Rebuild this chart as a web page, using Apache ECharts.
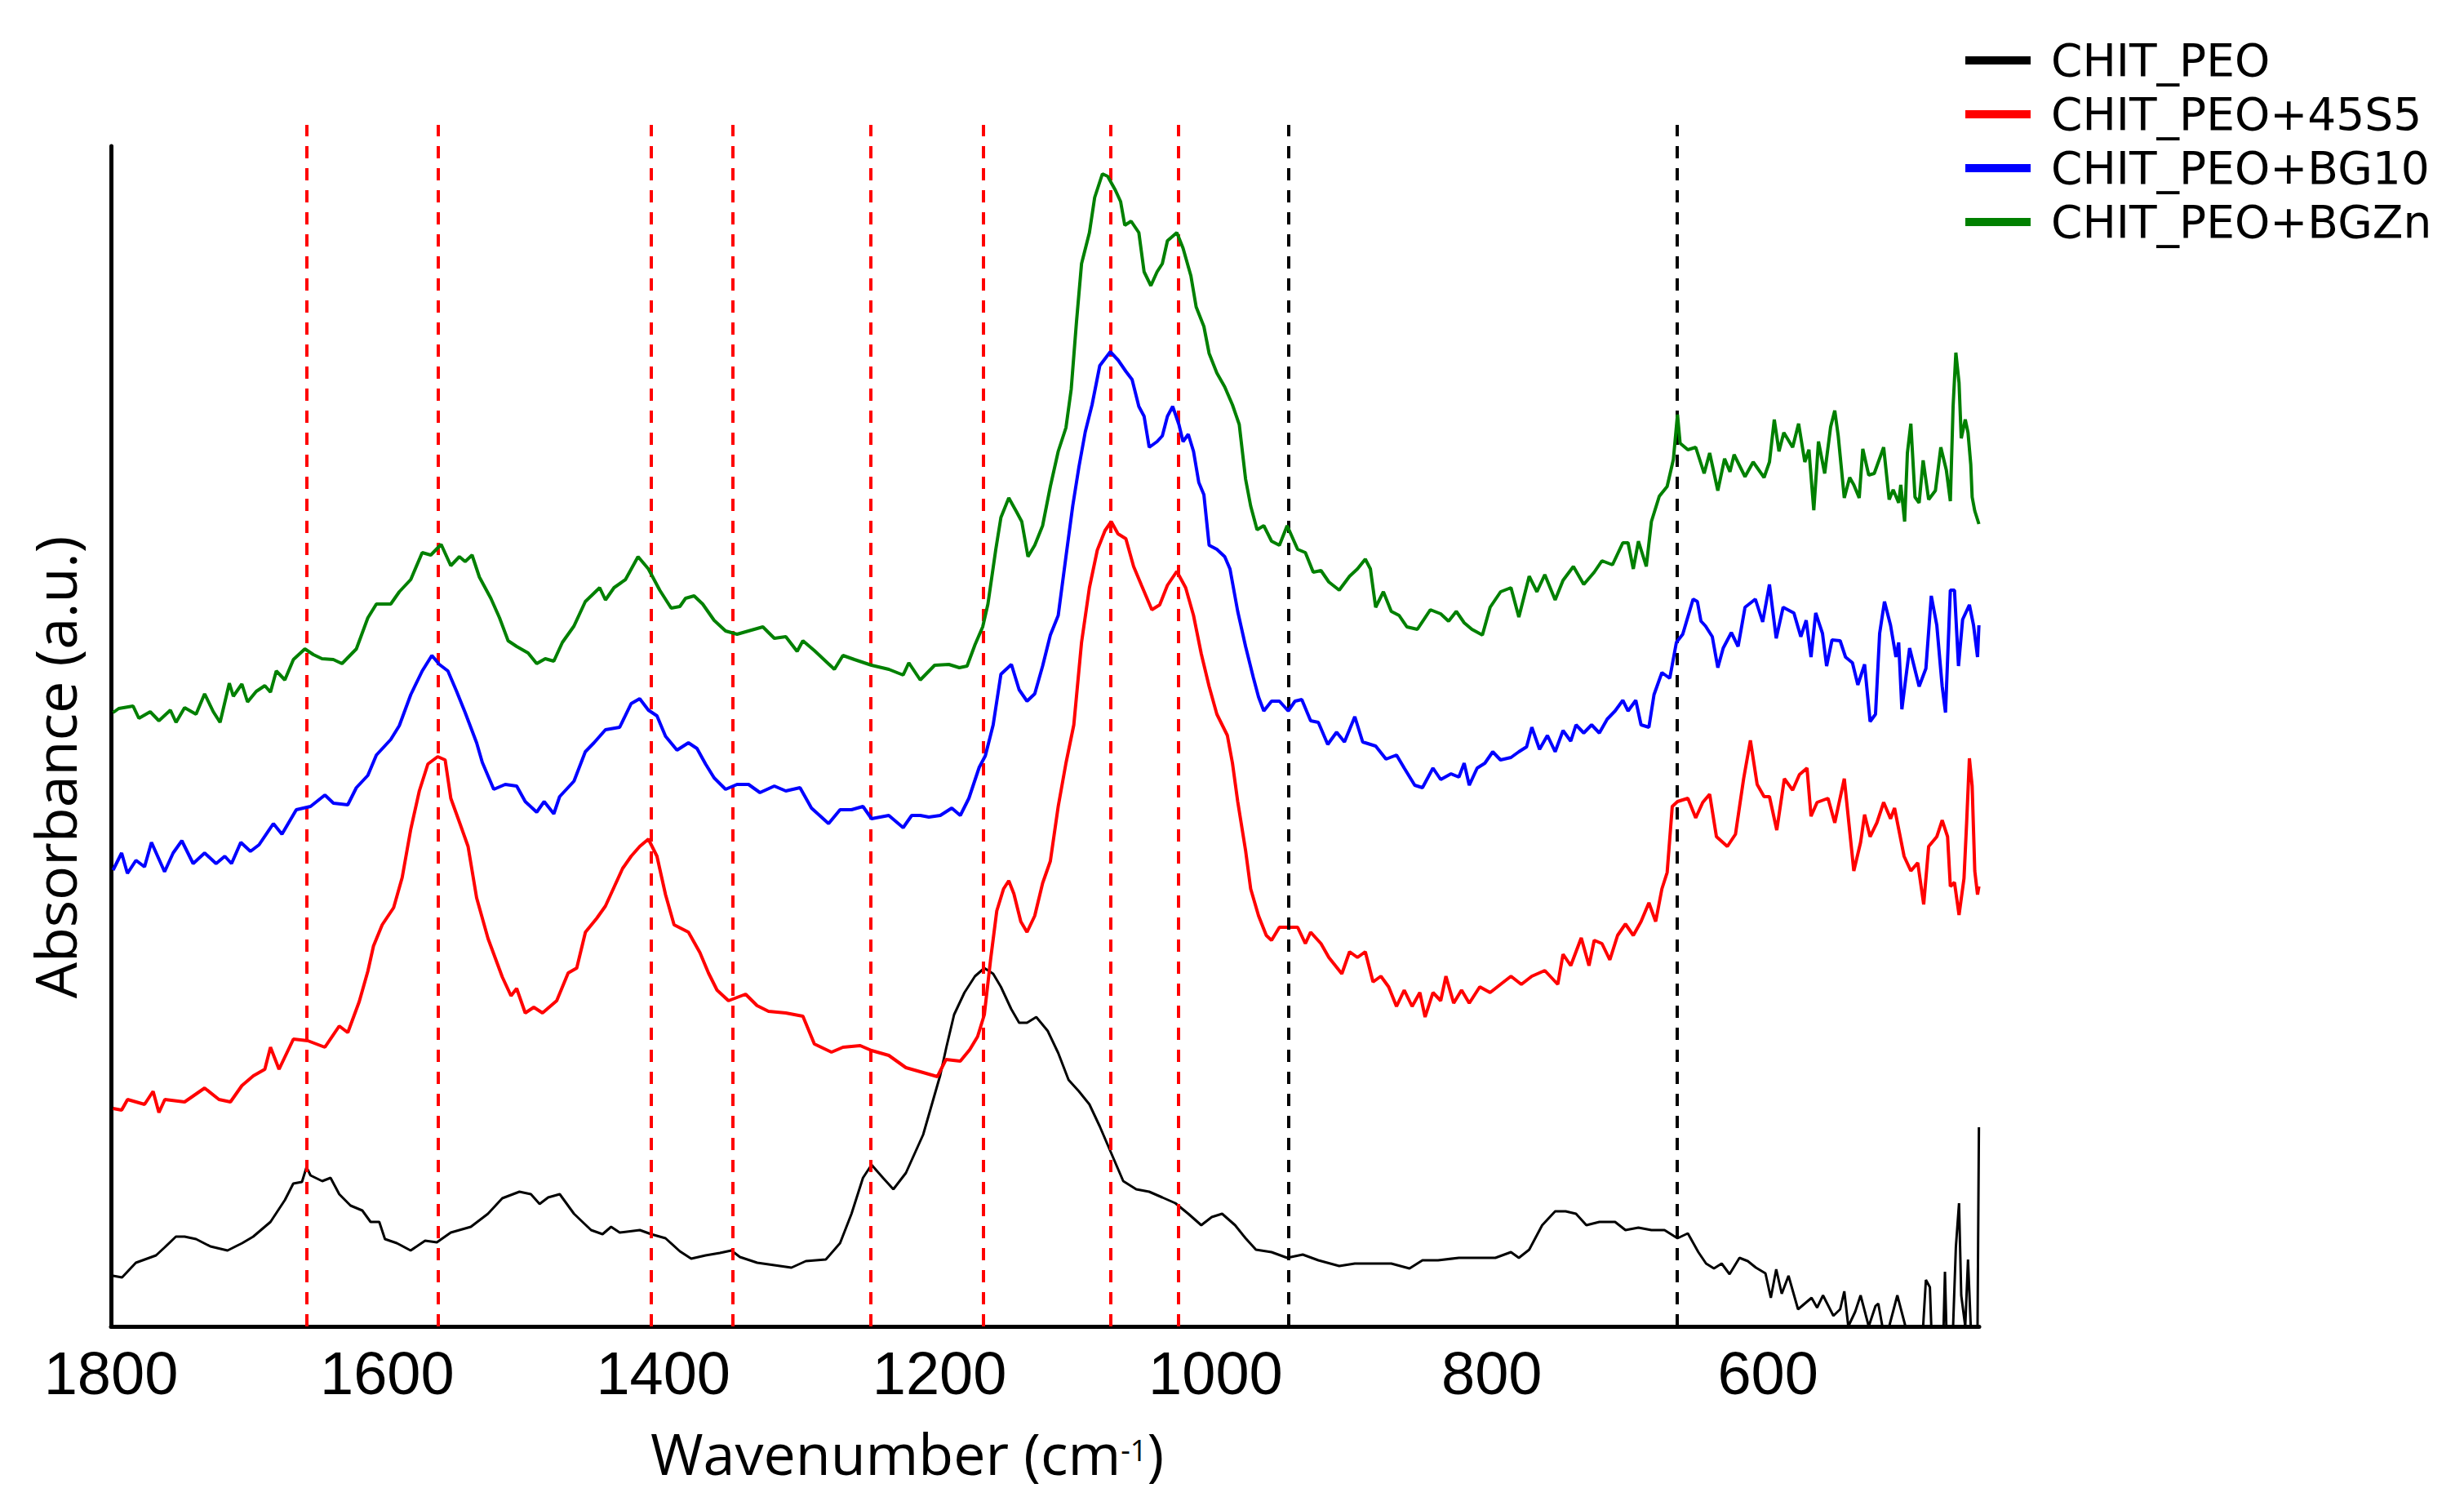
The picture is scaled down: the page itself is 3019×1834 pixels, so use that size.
<!DOCTYPE html>
<html>
<head>
<meta charset="utf-8">
<script src="https://cdn.jsdelivr.net/npm/echarts@6/dist/echarts.min.js"></script>
<style>
html,body{margin:0;padding:0;background:#fff;}
#chart{width:3019px;height:1834px;}
</style>
</head>
<body>
<div id="chart"></div>
<script>
// ---- data (wavenumber cm-1, absorbance a.u. with vertical offsets as in the figure) ----
const seriesNames = ['CHIT_PEO', 'CHIT_PEO+45S5', 'CHIT_PEO+BG10', 'CHIT_PEO+BGZn'];
const seriesColors = ['#000000', '#FF0000', '#0000FF', '#008000'];
const tickLabels = [1800, 1600, 1400, 1200, 1000, 800, 600];
const dashedRed = [1658, 1563, 1409, 1350, 1250, 1168, 1076, 1027];
const dashedBlack = [947, 666];

const chitPeo = [[1798.5,0.62],[1792,0.60],[1782,0.78],[1767.4,0.87],[1761,0.97],[1753,1.10],[1746.7,1.10],[1738.4,1.07],[1728,0.98],[1715.6,0.93],[1705,1.02],[1697,1.10],[1684.5,1.28],[1674,1.55],[1668,1.75],[1661.7,1.77],[1658.4,1.95],[1655.5,1.85],[1647,1.78],[1641,1.82],[1634.7,1.62],[1626.5,1.48],[1618,1.42],[1612,1.28],[1605.7,1.28],[1601.6,1.07],[1593,1.02],[1583,0.93],[1572.5,1.05],[1564,1.03],[1553.9,1.15],[1539.4,1.22],[1527,1.38],[1516.6,1.57],[1504.2,1.65],[1495.9,1.62],[1489.6,1.50],[1483.4,1.58],[1475,1.62],[1464.7,1.38],[1452.3,1.18],[1444,1.13],[1437.8,1.22],[1431.6,1.15],[1417,1.18],[1408.8,1.13],[1398.4,1.08],[1388,0.92],[1379.8,0.83],[1369.4,0.87],[1359,0.90],[1350.7,0.93],[1344.5,0.85],[1332,0.78],[1319.6,0.75],[1307.2,0.72],[1296.8,0.80],[1282.3,0.82],[1272,1.02],[1263.7,1.38],[1255.4,1.82],[1249.2,1.98],[1240.9,1.82],[1233.4,1.68],[1224.3,1.88],[1211.8,2.35],[1199.4,3.08],[1195,3.42],[1189.4,3.82],[1181.9,4.09],[1174.3,4.29],[1167.5,4.39],[1161.1,4.32],[1155.5,4.16],[1148.1,3.89],[1142.3,3.72],[1136.6,3.72],[1129.9,3.79],[1121.6,3.62],[1114,3.35],[1106.5,3.02],[1099,2.88],[1091.4,2.72],[1083.9,2.45],[1076.3,2.15],[1066.9,1.78],[1057.5,1.68],[1048.1,1.65],[1038.6,1.58],[1029.2,1.51],[1019.8,1.38],[1010.4,1.24],[1002.8,1.34],[995.3,1.38],[985.9,1.24],[978.3,1.08],[970.8,0.94],[959.5,0.91],[948.2,0.84],[936.9,0.88],[925.6,0.81],[910.5,0.74],[899.2,0.77],[884.1,0.77],[872.8,0.77],[859.6,0.71],[850.2,0.81],[838.9,0.81],[823.8,0.84],[808.7,0.84],[797.4,0.84],[786.1,0.91],[780.4,0.84],[772.9,0.94],[763.5,1.24],[754.1,1.41],[746.5,1.41],[739,1.38],[731.5,1.24],[722.1,1.28],[710.7,1.28],[703.2,1.18],[693.8,1.21],[684.4,1.18],[674.9,1.18],[665.5,1.08],[658,1.14],[650.4,0.91],[644.8,0.77],[639.1,0.71],[633.5,0.77],[627.8,0.64],[620.6,0.84],[614.6,0.80],[608.7,0.72],[601.8,0.65],[597.9,0.35],[594,0.70],[590,0.40],[585.1,0.62],[578.2,0.21],[573.3,0.28],[568.4,0.35],[564.4,0.23],[560.1,0.38],[552.6,0.13],[547.7,0.21],[544.7,0.43],[541.8,0],[536.8,0.18],[532.9,0.38],[527,0],[522.1,0.25],[520.1,0.28],[517.1,0],[512.2,0],[506.3,0.38],[500.4,0],[487.6,0],[485.6,0.57],[482.7,0.48],[481.7,0],[472.8,0],[471.8,0.67],[470.8,0],[465.9,0],[463.9,0.97],[461.6,1.51],[460,0.38],[457.1,0],[455.1,0.82],[453.1,0],[448.2,0],[447.2,2.44]];

const chitPeo45S5 = [[1798.5,2.67],[1792.3,2.65],[1788,2.78],[1775.7,2.72],[1769.5,2.88],[1765.3,2.62],[1761,2.78],[1746.7,2.75],[1732.2,2.92],[1721.8,2.78],[1713.5,2.75],[1705.2,2.95],[1696.9,3.07],[1688.6,3.15],[1684.5,3.42],[1678.3,3.15],[1667.9,3.52],[1657.5,3.50],[1645.1,3.42],[1634.7,3.68],[1628.5,3.60],[1620.2,3.98],[1614,4.35],[1609.9,4.66],[1603.6,4.92],[1595.3,5.13],[1589.1,5.50],[1582.9,6.09],[1576.7,6.56],[1570.5,6.89],[1563.4,6.98],[1558,6.94],[1553.9,6.47],[1547.7,6.18],[1541.4,5.88],[1535.2,5.25],[1526.9,4.75],[1516.6,4.28],[1510.3,4.05],[1506.2,4.14],[1500,3.84],[1493.8,3.91],[1487.5,3.84],[1477.2,3.99],[1468.9,4.33],[1462.7,4.39],[1456.4,4.83],[1448.2,5.00],[1441.9,5.15],[1435.7,5.38],[1429.5,5.61],[1423.3,5.76],[1417.1,5.88],[1410.8,5.97],[1404.6,5.76],[1398.4,5.29],[1392.2,4.92],[1381.8,4.83],[1373.5,4.58],[1367.3,4.33],[1361.1,4.12],[1352.8,3.99],[1340.4,4.07],[1332.1,3.93],[1323.8,3.86],[1311.3,3.84],[1298.9,3.80],[1290.6,3.46],[1278.2,3.36],[1269.9,3.42],[1257.4,3.44],[1249.2,3.38],[1236.7,3.32],[1224.3,3.17],[1211.8,3.11],[1201.5,3.06],[1195.3,3.27],[1184.9,3.25],[1178.1,3.39],[1172.4,3.55],[1167.5,3.82],[1163,4.49],[1158.5,5.09],[1153.6,5.36],[1149.8,5.46],[1146.1,5.30],[1141.1,4.96],[1136.6,4.83],[1131,5.03],[1125.3,5.43],[1119.7,5.70],[1114,6.37],[1108.4,6.90],[1102.7,7.37],[1097.1,8.38],[1091.4,9.05],[1085.7,9.51],[1080.1,9.75],[1075.6,9.86],[1070.7,9.71],[1065,9.65],[1059.4,9.31],[1053.7,9.08],[1046.2,8.78],[1040.5,8.84],[1034.9,9.08],[1028.1,9.25],[1021.7,9.05],[1016,8.71],[1010.4,8.24],[1004.7,7.84],[999.1,7.50],[991.5,7.24],[987.8,6.90],[984,6.43],[978.3,5.83],[974.6,5.36],[968.9,5.03],[963.3,4.79],[959.5,4.73],[953.8,4.89],[947.4,4.89],[940.6,4.89],[935,4.69],[931.2,4.83],[923.7,4.69],[918,4.52],[908.6,4.32],[903,4.59],[897.3,4.52],[891.6,4.59],[886,4.22],[880.3,4.29],[874.7,4.16],[869,3.92],[863.4,4.12],[857.7,3.92],[852.1,4.09],[848.3,3.79],[842.6,4.09],[837,3.99],[833.2,4.29],[827.6,3.96],[821.9,4.12],[816.3,3.96],[808.7,4.16],[801.2,4.09],[793.7,4.19],[786.1,4.29],[778.6,4.19],[771,4.29],[761.6,4.36],[752.2,4.19],[748.4,4.56],[742.8,4.42],[735.2,4.76],[729.6,4.42],[725.8,4.73],[720.2,4.69],[714.5,4.49],[708.9,4.79],[703.2,4.93],[697.5,4.79],[691.9,4.96],[686.2,5.19],[681.3,4.96],[676.8,5.36],[673,5.56],[669.3,6.37],[665.5,6.43],[658,6.47],[652.3,6.23],[647.2,6.42],[642.2,6.52],[637.3,6.00],[629.4,5.88],[623.5,6.03],[617.6,6.71],[612.7,7.18],[607.8,6.64],[602.8,6.49],[598.9,6.49],[593.6,6.08],[588.1,6.71],[582.1,6.57],[577.2,6.76],[571.7,6.84],[568.8,6.25],[564.4,6.42],[556.5,6.47],[551.6,6.17],[544.7,6.71],[537.8,5.58],[532.9,5.93],[530,6.27],[526,6.00],[521.1,6.17],[516.2,6.42],[511.2,6.22],[508.3,6.35],[501.4,5.76],[496.5,5.58],[491.5,5.68],[487.2,5.17],[483.6,5.88],[477.7,6.00],[473.8,6.20],[469.9,6.00],[467.9,5.39],[464.9,5.44],[461.6,5.04],[458,5.49],[456.1,6.17],[454.1,6.96],[452.1,6.62],[450.2,5.58],[448.2,5.29],[447.2,5.39]];

const chitPeoBG10 = [[1798.5,5.59],[1792.3,5.80],[1788.1,5.55],[1781.9,5.71],[1775.7,5.63],[1770.7,5.93],[1761.2,5.57],[1755,5.80],[1748.7,5.95],[1740.5,5.67],[1732.2,5.80],[1723.9,5.67],[1717.6,5.76],[1712.7,5.67],[1706,5.93],[1699,5.82],[1692.8,5.90],[1682.4,6.16],[1676.2,6.03],[1665.8,6.33],[1655.5,6.37],[1645.1,6.51],[1638.9,6.41],[1628.5,6.39],[1622.3,6.60],[1614,6.75],[1607.8,7.00],[1597.4,7.19],[1591.2,7.36],[1582.9,7.74],[1574.6,8.03],[1567.6,8.22],[1562.2,8.11],[1556,8.03],[1549.7,7.78],[1543.5,7.52],[1535.2,7.15],[1531.1,6.91],[1522.8,6.58],[1514.5,6.64],[1506.2,6.62],[1500,6.43],[1491.7,6.30],[1486.3,6.43],[1479.3,6.28],[1475.1,6.49],[1464.7,6.68],[1456.5,7.04],[1450.2,7.15],[1441.9,7.31],[1431.6,7.34],[1423.3,7.63],[1417.1,7.69],[1410.8,7.55],[1404.6,7.48],[1398.4,7.23],[1390.1,7.06],[1381.8,7.15],[1375.6,7.08],[1369.4,6.89],[1363.2,6.72],[1354.9,6.58],[1346.6,6.64],[1338.3,6.64],[1330,6.54],[1319.6,6.62],[1311.3,6.56],[1301,6.60],[1292.7,6.35],[1280.3,6.16],[1272,6.33],[1263.7,6.33],[1255.4,6.37],[1249.2,6.22],[1236.7,6.26],[1226.3,6.11],[1220.1,6.26],[1213.9,6.26],[1207.7,6.24],[1199.4,6.26],[1191.1,6.35],[1184.9,6.26],[1178.7,6.47],[1171.2,6.85],[1166.8,6.99],[1161.1,7.37],[1155.5,7.99],[1147.9,8.11],[1142.3,7.80],[1136.6,7.66],[1131,7.75],[1125.3,8.09],[1119.7,8.47],[1114,8.71],[1108.4,9.43],[1103.5,10.05],[1099,10.53],[1094.4,10.96],[1089.5,11.29],[1083.9,11.77],[1076.3,11.94],[1070.7,11.84],[1065,11.70],[1060.5,11.60],[1055.6,11.27],[1051.8,11.15],[1048.1,10.77],[1042.4,10.84],[1038.6,10.91],[1034.9,11.15],[1031.1,11.27],[1026.6,11.05],[1023.6,10.84],[1019.8,10.93],[1016,10.72],[1012.2,10.34],[1008.5,10.19],[1004.7,9.57],[999.1,9.52],[993.4,9.43],[989.6,9.28],[984,8.76],[978.3,8.33],[972.7,7.95],[968.9,7.71],[965.1,7.54],[959.5,7.66],[953.8,7.66],[947.4,7.54],[942.5,7.66],[937.6,7.68],[931.2,7.42],[925.6,7.40],[918.8,7.13],[912.4,7.28],[906.7,7.16],[899.2,7.47],[893.5,7.16],[884.1,7.11],[876.6,6.95],[869,7.00],[863.4,6.84],[855.8,6.63],[850.2,6.60],[842.6,6.84],[837,6.70],[829.5,6.77],[823.8,6.73],[820,6.90],[816.3,6.63],[810.6,6.84],[805,6.90],[799.3,7.04],[793.7,6.94],[786.1,6.97],[780.4,7.04],[774.8,7.10],[771,7.34],[765.4,7.07],[759.7,7.24],[754.1,7.04],[748.4,7.30],[742.8,7.17],[739,7.37],[733.4,7.27],[727.7,7.37],[722.1,7.27],[716.4,7.44],[710.7,7.54],[705.1,7.67],[701.3,7.54],[695.7,7.67],[691.9,7.37],[686.2,7.34],[682.5,7.74],[676.8,8.01],[671.1,7.94],[666.3,8.38],[661.7,8.48],[654.2,8.91],[651.1,8.88],[648.5,8.64],[645.2,8.58],[640.3,8.45],[636.3,8.07],[632.4,8.31],[626.5,8.50],[621.6,8.33],[616.6,8.81],[609.1,8.91],[603.8,8.63],[598.9,9.09],[594,8.43],[589,8.81],[581.2,8.74],[576.2,8.45],[572.3,8.65],[568.8,8.20],[565.4,8.74],[560.5,8.49],[557.5,8.09],[553.6,8.41],[547.7,8.40],[543.8,8.20],[538.8,8.13],[534.9,7.86],[530,8.11],[526,7.41],[522.1,7.50],[519.1,8.49],[515.6,8.88],[511.2,8.59],[507.3,8.20],[505.3,8.38],[503,7.56],[500.4,7.91],[497.4,8.31],[490.5,7.84],[485.6,8.06],[481.7,8.95],[477.7,8.59],[473.8,7.84],[471.4,7.52],[467.9,9.02],[464.9,9.02],[462,8.09],[459,8.66],[454.1,8.84],[451.1,8.59],[448.2,8.20],[447.2,8.59]];

const chitPeoBGZn = [[1798.5,7.52],[1794.4,7.57],[1784,7.60],[1779.8,7.45],[1771.6,7.53],[1765.3,7.42],[1757,7.55],[1752.9,7.40],[1746.7,7.58],[1738.4,7.50],[1732.2,7.75],[1725.9,7.53],[1721,7.40],[1714.3,7.88],[1711.4,7.72],[1705.2,7.87],[1701.1,7.65],[1694.8,7.78],[1688.6,7.85],[1684.5,7.77],[1680.3,8.03],[1674.1,7.92],[1667.9,8.17],[1659.6,8.30],[1653.4,8.23],[1647.2,8.18],[1639,8.17],[1632.7,8.12],[1622.3,8.30],[1614,8.68],[1607.8,8.85],[1597.4,8.85],[1591.2,9.00],[1582.9,9.15],[1574.6,9.48],[1568.4,9.45],[1560.9,9.58],[1553.9,9.32],[1547.7,9.43],[1543.5,9.37],[1538.5,9.45],[1533.2,9.18],[1524.9,8.92],[1518.6,8.68],[1512.4,8.40],[1506.2,8.33],[1497.9,8.25],[1491.7,8.12],[1485.5,8.18],[1479.3,8.15],[1473.1,8.38],[1464.7,8.58],[1456.5,8.88],[1446.1,9.05],[1441.9,8.90],[1435.7,9.05],[1427.4,9.15],[1418.3,9.43],[1410.8,9.28],[1402.6,9.02],[1394.3,8.80],[1388,8.82],[1383.9,8.92],[1377.7,8.95],[1371.5,8.85],[1363.2,8.65],[1354.9,8.52],[1346.6,8.48],[1338.3,8.52],[1327.9,8.57],[1319.6,8.43],[1311.3,8.45],[1303.1,8.27],[1298.9,8.40],[1290.6,8.28],[1276.1,8.05],[1269.9,8.22],[1261.6,8.17],[1249.2,8.10],[1236.7,8.05],[1226.3,7.98],[1222.2,8.13],[1213.9,7.92],[1203.5,8.10],[1193.2,8.11],[1185.6,8.07],[1180,8.09],[1174.3,8.35],[1168.7,8.57],[1164.9,8.85],[1159.2,9.52],[1155.5,9.91],[1149.8,10.15],[1144.2,9.98],[1140.4,9.86],[1135.9,9.43],[1131,9.57],[1125.3,9.81],[1119.7,10.29],[1114,10.72],[1108.4,11.01],[1104.6,11.48],[1100.8,12.30],[1097.1,13.02],[1091.4,13.40],[1087.6,13.83],[1082,14.12],[1078.2,14.09],[1072.6,13.92],[1068.8,13.78],[1065.8,13.49],[1061.2,13.54],[1055.6,13.40],[1051.8,12.92],[1046.9,12.75],[1042.4,12.92],[1038.6,13.02],[1034.9,13.30],[1028.1,13.40],[1023.6,13.21],[1017.9,12.87],[1014.1,12.49],[1008.5,12.25],[1004.7,11.92],[999.1,11.68],[993.4,11.51],[987.8,11.29],[982.9,11.05],[978.3,10.38],[974.6,10.05],[970,9.76],[965.1,9.81],[959.5,9.62],[953.8,9.57],[948.2,9.81],[940.6,9.52],[935,9.48],[929.3,9.24],[923.7,9.26],[918,9.12],[910.5,9.02],[903,9.19],[897.3,9.28],[891.6,9.40],[887.9,9.28],[884.1,8.81],[878.5,9.00],[872.8,8.76],[867.1,8.71],[861.5,8.57],[853.9,8.54],[844.5,8.78],[837,8.73],[831.3,8.64],[825.7,8.76],[820,8.62],[814.4,8.54],[806.8,8.47],[801.2,8.81],[793.6,9.00],[786.1,9.05],[780.4,8.69],[772.9,9.19],[767.3,9.00],[761.6,9.21],[754.1,8.90],[748.4,9.14],[740.9,9.31],[733.4,9.09],[725.8,9.24],[720.2,9.38],[712.6,9.33],[705.1,9.60],[701.3,9.60],[697.5,9.28],[693.8,9.62],[688.1,9.31],[684.4,9.86],[678.7,10.17],[673,10.29],[668.5,10.62],[665.5,11.17],[663.6,10.82],[658,10.74],[652.3,10.77],[646.2,10.45],[642.2,10.70],[636.3,10.24],[631.4,10.63],[627.5,10.47],[624.5,10.68],[616.6,10.41],[610.7,10.59],[602.8,10.40],[598.9,10.59],[595.4,11.11],[592,10.72],[588.5,10.95],[582.1,10.77],[577.8,11.06],[573.3,10.59],[570.3,10.74],[566.8,10.00],[563.4,10.84],[558.9,10.45],[554.6,11.02],[551.6,11.22],[549.1,10.91],[544.7,10.15],[540.8,10.40],[537.8,10.31],[533.9,10.15],[531.3,10.75],[527,10.43],[523,10.45],[516.2,10.77],[512.2,10.13],[509.3,10.25],[505.3,10.09],[503.8,10.31],[501,9.86],[499,10.70],[496.5,11.06],[493.5,10.16],[490.5,10.09],[487.6,10.61],[483.6,10.13],[478.7,10.24],[474.8,10.77],[470.8,10.49],[467.9,10.11],[465.9,11.27],[463.9,11.93],[461.6,11.56],[460,10.88],[457.1,11.11],[455.1,10.95],[453.1,10.56],[452.1,10.16],[450.2,9.99],[447.2,9.83]];

const spectra = [chitPeo, chitPeo45S5, chitPeoBG10, chitPeoBGZn];
const lineWidths = [3, 4, 4, 4];

// ---- chart ----
const chart = echarts.init(document.getElementById('chart'), null, {renderer: 'svg'});
const titleFont = "'Open Sans', 'DejaVu Sans', sans-serif";
const legendFont = "'DejaVu Sans', 'Open Sans', sans-serif";
const tickFont = "'Liberation Sans', Arial, sans-serif";

const markData = dashedRed.map(v => ({xAxis: v, lineStyle: {color: '#FF0000', type: [15, 12], width: 4}}))
  .concat(dashedBlack.map(v => ({xAxis: v, lineStyle: {color: '#000000', type: [15, 12], width: 4}})));

const series = spectra.map((d, i) => ({
  type: 'line',
  name: seriesNames[i],
  data: d,
  xAxisIndex: 0,
  yAxisIndex: 0,
  showSymbol: false,
  symbol: 'none',
  animation: false,
  lineStyle: {color: seriesColors[i], width: lineWidths[i]},
  itemStyle: {color: seriesColors[i]},
  z: 3 + i
}));
series[0].markLine = {
  silent: true,
  symbol: ['none', 'none'],
  label: {show: false},
  animation: false,
  data: markData
};

const option = {
  animation: false,
  backgroundColor: '#ffffff',
  grid: [
    {left: 136, right: 594, top: 153, bottom: 209},
    {left: 136, right: 594, top: 179, bottom: 209}
  ],
  legend: {
    orient: 'vertical',
    left: 2403,
    top: 38,
    itemWidth: 80,
    itemHeight: 10,
    itemGap: 4,
    icon: 'rect',
    data: seriesNames,
    textStyle: {fontSize: 55, fontFamily: legendFont, color: '#000', lineHeight: 62, padding: [0, 0, 0, 20]}
  },
  xAxis: [
    {
      type: 'value', gridIndex: 0, min: 447, max: 1800, inverse: true,
      axisLine: {show: true, onZero: false, lineStyle: {color: '#000', width: 5}},
      axisTick: {show: false},
      splitLine: {show: false},
      axisLabel: {customValues: tickLabels, formatter: v => String(v), fontSize: 74, fontFamily: tickFont, color: '#000', margin: 20},
      name: '{a|Wavenumber (cm}{s|-1}{a|)}',
      nameLocation: 'middle',
      nameGap: 110,
      nameTextStyle: {
        padding: [0, 338, 0, 0],
        rich: {
          a: {fontSize: 70, fontFamily: titleFont, color: '#000', lineHeight: 90},
          s: {fontSize: 36, fontFamily: titleFont, color: '#000', lineHeight: 90, padding: [0, 0, 8, 0]}
        }
      }
    },
    {type: 'value', gridIndex: 1, min: 447, max: 1800, inverse: true, show: false}
  ],
  yAxis: [
    {
      type: 'value', gridIndex: 0, min: 0, max: 14.72,
      axisLine: {show: false}, axisTick: {show: false}, axisLabel: {show: false}, splitLine: {show: false},
      name: 'Absorbance (a.u.)',
      nameLocation: 'middle',
      nameGap: 24,
      nameTextStyle: {fontSize: 70, fontFamily: titleFont, color: '#000', lineHeight: 90, padding: [0, 102, 0, 0]}
    },
    {
      type: 'value', gridIndex: 1, min: 0, max: 1,
      axisLine: {show: true, onZero: false, lineStyle: {color: '#000', width: 5}},
      axisTick: {show: false}, axisLabel: {show: false}, splitLine: {show: false}
    }
  ],
  series: series
};
chart.setOption(option);
</script>
</body>
</html>
